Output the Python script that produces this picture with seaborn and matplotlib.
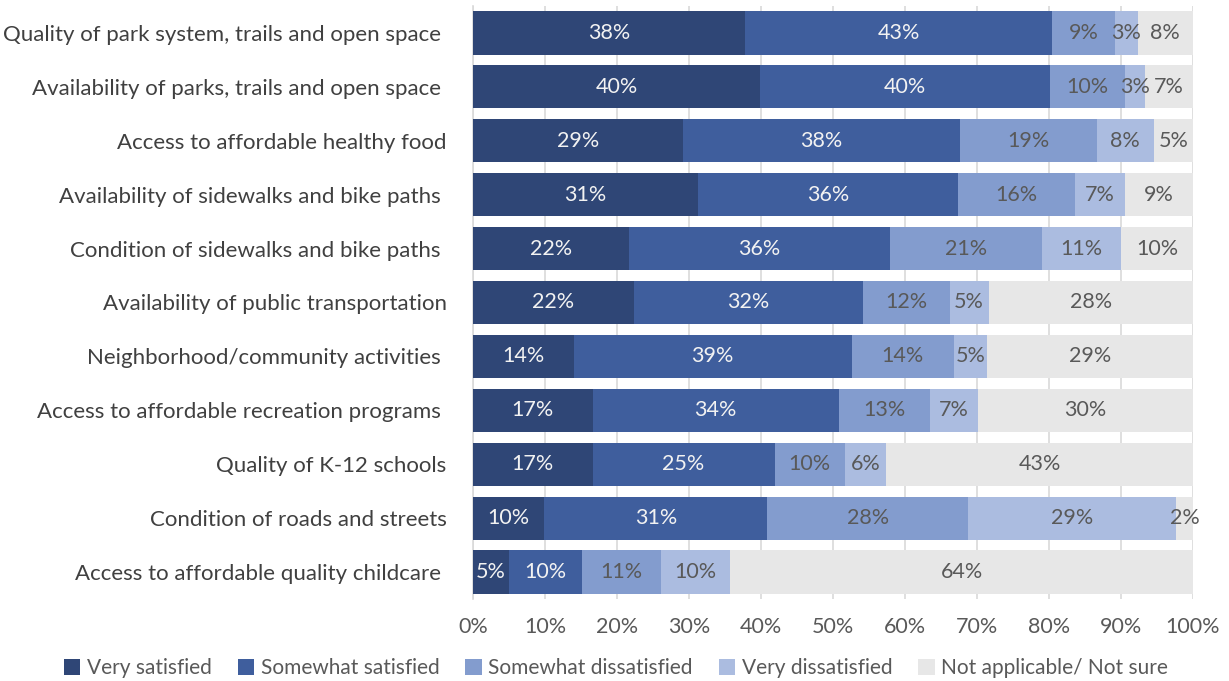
import matplotlib
matplotlib.use("Agg")
import matplotlib.pyplot as plt
from matplotlib.patches import Patch
import numpy as np
import pandas as pd
import seaborn as sns

items = [
    "Quality of park system, trails and open space ",
    "Availability of parks, trails and open space ",
    "Access to affordable healthy food",
    "Availability of sidewalks and bike paths ",
    "Condition of sidewalks and bike paths ",
    "Availability of public transportation",
    "Neighborhood/community activities ",
    "Access to affordable recreation programs ",
    "Quality of K-12 schools",
    "Condition of roads and streets",
    "Access to affordable quality childcare ",
]

very_satisfied = [37.8, 39.9, 29.2, 31.3, 21.6, 22.3, 14.0, 16.6, 16.6, 9.9, 5.0]
somewhat_satisfied = [42.6, 40.2, 38.4, 36.0, 36.3, 31.8, 38.6, 34.2, 25.3, 31.0, 10.1]
somewhat_dissatisfied = [8.8, 10.4, 19.0, 16.3, 21.1, 12.1, 14.2, 12.7, 9.7, 27.9, 11.0]
very_dissatisfied = [3.1, 2.8, 8.0, 7.0, 11.0, 5.4, 4.6, 6.6, 5.8, 28.9, 9.6]
not_applicable = [7.7, 6.7, 5.4, 9.4, 10.0, 28.4, 28.6, 29.9, 42.6, 2.3, 64.3]

series_names = ["Very satisfied", "Somewhat satisfied", "Somewhat dissatisfied",
                "Very dissatisfied", "Not applicable/ Not sure"]
colors = ["#2F4676", "#3F5E9D", "#839CCE", "#ABBCE0", "#E7E7E7"]
text_colors = ["#F2F2F2", "#F2F2F2", "#595959", "#595959", "#595959"]

df = pd.DataFrame({
    series_names[0]: very_satisfied,
    series_names[1]: somewhat_satisfied,
    series_names[2]: somewhat_dissatisfied,
    series_names[3]: very_dissatisfied,
    series_names[4]: not_applicable,
}, index=items)
cum = df.cumsum(axis=1)

sns.set_style("white")
plt.rcParams["font.family"] = ["Lato", "DejaVu Sans"]

fig = plt.figure(figsize=(12.29, 6.81), dpi=100)
ax = fig.add_axes([473 / 1229, 1 - 599 / 681, 720 / 1229, 593 / 681])

# stacked bars: draw cumulative totals back to front
for i in reversed(range(len(series_names))):
    sns.barplot(x=cum.iloc[:, i].values, y=items, orient="h", color=colors[i],
                saturation=1, width=0.8, errorbar=None, ax=ax, zorder=3,
                edgecolor="none")

for r, item in enumerate(items):
    left = 0
    for i, name in enumerate(series_names):
        v = df.loc[item, name]
        ax.text(left + v / 2, r, f"{v:.0f}%", ha="center", va="center",
                color=text_colors[i], fontsize=15.5, zorder=4)
        left += v

ax.set_xlim(0, 100)
ax.set_xticks(np.arange(0, 101, 10))
ax.set_xticklabels([f"{t}%" for t in range(0, 101, 10)])
ax.xaxis.grid(True, color="#D9D9D9", lw=1.2, zorder=0)
ax.set_axisbelow(True)
ax.tick_params(axis="x", length=0, pad=13, labelsize=15.5, labelcolor="#595959")
ax.tick_params(axis="y", length=0, pad=19, labelsize=16, labelcolor="#404040")
ax.set_xlabel(None)
ax.set_ylabel(None)
for s in ["top", "right", "bottom"]:
    ax.spines[s].set_visible(False)
ax.spines["left"].set_color("#D9D9D9")
ax.spines["left"].set_linewidth(1.2)

handles = [Patch(facecolor=c, edgecolor="none") for c in colors]
fig.legend(handles, series_names, loc="center", bbox_to_anchor=(616 / 1229, 1 - 668 / 681),
           ncol=5, frameon=False, fontsize=15, handlelength=0.8, handleheight=0.8,
           handletextpad=0.3, columnspacing=1.25, labelcolor="#595959")

fig.savefig("out.png", dpi=100)
